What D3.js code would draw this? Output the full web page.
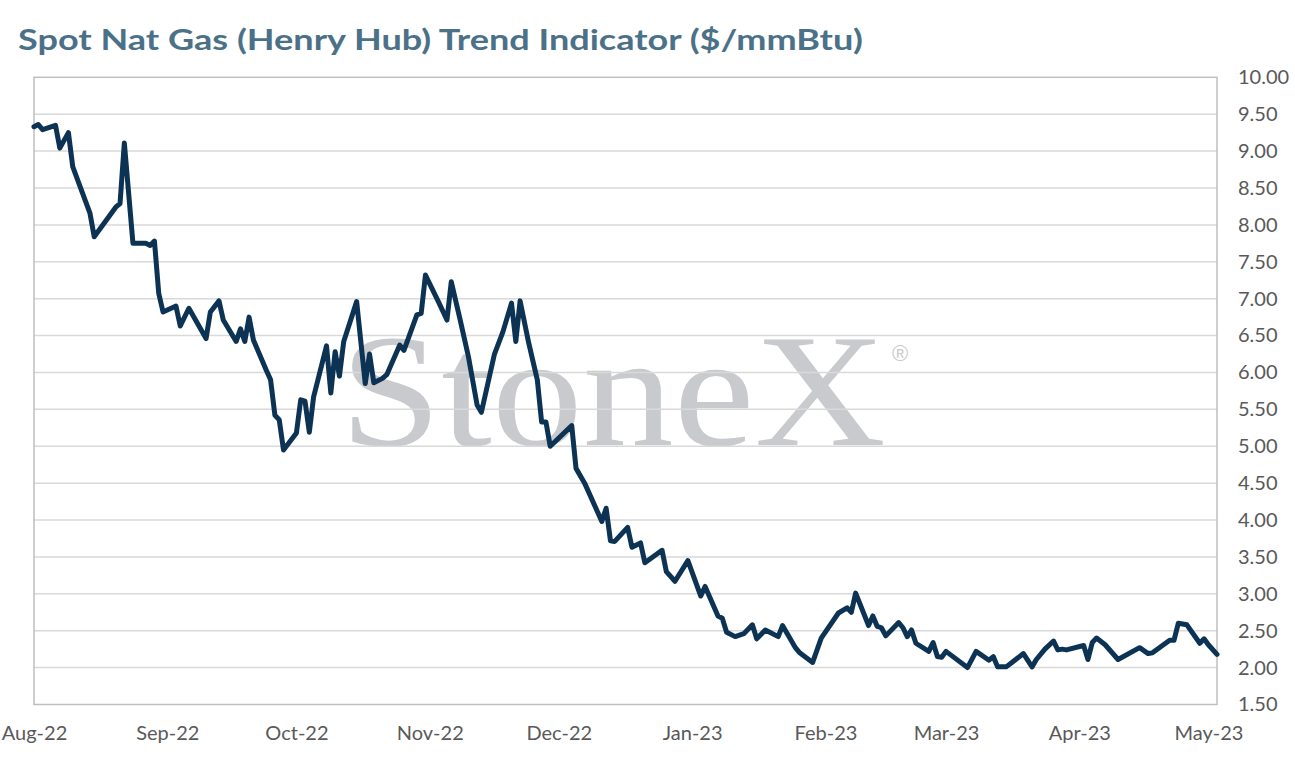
<!DOCTYPE html>
<html>
<head>
<meta charset="utf-8">
<script src="https://cdn.jsdelivr.net/npm/d3@7"></script>
<style>
  html, body { margin: 0; padding: 0; background: #ffffff; }
  svg { display: block; }
</style>
</head>
<body>
<svg id="chart" width="1295" height="766"></svg>
<script>
const titleText = "Spot Nat Gas (Henry Hub) Trend Indicator ($/mmBtu)";
const yTicks = [1.5, 2, 2.5, 3, 3.5, 4, 4.5, 5, 5.5, 6, 6.5, 7, 7.5, 8, 8.5, 9, 9.5, 10];
const xTickMonths = ["2022-08-01","2022-09-01","2022-10-01","2022-11-01","2022-12-01","2023-01-01","2023-02-01","2023-03-01","2023-04-01","2023-05-01"];
const xDomain = ["2022-08-01", "2023-05-03"];

const dates = [
"2022-08-01","2022-08-02","2022-08-03","2022-08-06","2022-08-07","2022-08-09","2022-08-10","2022-08-14","2022-08-15","2022-08-20",
"2022-08-21","2022-08-22","2022-08-24","2022-08-27","2022-08-28","2022-08-29","2022-08-30","2022-08-31","2022-09-03","2022-09-04",
"2022-09-06","2022-09-10","2022-09-11","2022-09-13","2022-09-14","2022-09-17","2022-09-18","2022-09-19","2022-09-20","2022-09-21",
"2022-09-24","2022-09-25","2022-09-26","2022-09-27","2022-09-28","2022-10-01","2022-10-02","2022-10-03","2022-10-04","2022-10-05",
"2022-10-08","2022-10-09","2022-10-10","2022-10-11","2022-10-12","2022-10-15","2022-10-17","2022-10-18","2022-10-19","2022-10-21",
"2022-10-22","2022-10-25","2022-10-26","2022-10-29","2022-10-30","2022-10-31","2022-11-03","2022-11-05","2022-11-06","2022-11-08",
"2022-11-10","2022-11-12","2022-11-13","2022-11-16","2022-11-18","2022-11-20","2022-11-21","2022-11-22","2022-11-24","2022-11-26",
"2022-11-27","2022-11-28","2022-11-29","2022-12-04","2022-12-05","2022-12-07","2022-12-11","2022-12-12","2022-12-13","2022-12-14",
"2022-12-17","2022-12-18","2022-12-20","2022-12-21","2022-12-25","2022-12-26","2022-12-28","2022-12-31","2023-01-03","2023-01-04",
"2023-01-07","2023-01-08","2023-01-09","2023-01-11","2023-01-13","2023-01-15","2023-01-16","2023-01-18","2023-01-21","2023-01-22",
"2023-01-25","2023-01-26","2023-01-29","2023-01-31","2023-02-04","2023-02-06","2023-02-07","2023-02-08","2023-02-11","2023-02-12",
"2023-02-13","2023-02-14","2023-02-15","2023-02-18","2023-02-19","2023-02-20","2023-02-21","2023-02-22","2023-02-25","2023-02-26",
"2023-02-27","2023-02-28","2023-03-01","2023-03-06","2023-03-08","2023-03-11","2023-03-12","2023-03-13","2023-03-15","2023-03-19",
"2023-03-21","2023-03-22","2023-03-24","2023-03-26","2023-03-27","2023-03-28","2023-03-29","2023-04-02","2023-04-03","2023-04-04",
"2023-04-05","2023-04-07","2023-04-10","2023-04-15","2023-04-17","2023-04-18","2023-04-22","2023-04-23","2023-04-24","2023-04-26",
"2023-04-29","2023-04-30","2023-05-01","2023-05-03"
];
const prices = [
9.33,9.36,9.29,9.35,9.04,9.25,8.79,8.16,7.84,8.24,
8.29,9.11,7.75,7.75,7.72,7.78,7.07,6.82,6.90,6.63,
6.87,6.46,6.82,6.97,6.71,6.42,6.59,6.42,6.75,6.44,
6.03,5.90,5.42,5.36,4.95,5.18,5.63,5.61,5.19,5.67,
6.36,5.72,6.28,5.95,6.42,6.96,5.85,6.25,5.86,5.92,
5.97,6.37,6.30,6.78,6.80,7.32,6.96,6.71,7.23,6.73,
6.21,5.56,5.46,6.24,6.55,6.94,6.42,6.97,6.40,5.90,
5.33,5.33,5.00,5.28,4.70,4.50,3.98,4.16,3.72,3.71,
3.90,3.63,3.69,3.42,3.59,3.30,3.17,3.45,2.97,3.10,
2.70,2.67,2.48,2.42,2.46,2.58,2.39,2.51,2.42,2.57,
2.27,2.20,2.07,2.40,2.74,2.81,2.75,3.01,2.57,2.70,
2.56,2.54,2.43,2.61,2.54,2.42,2.51,2.33,2.22,2.34,
2.15,2.14,2.22,2.00,2.22,2.10,2.15,2.01,2.01,2.19,
2.01,2.11,2.25,2.36,2.24,2.25,2.24,2.30,2.11,2.34,
2.40,2.31,2.11,2.27,2.19,2.20,2.37,2.37,2.60,2.58,
2.33,2.39,2.31,2.18
];

const parse = d3.timeParse("%Y-%m-%d");
const data = dates.map((d, i) => ({ date: parse(d), value: prices[i] }));

const svg = d3.select("#chart");
const L = 34, R = 1217, T = 77.3, B = 704.5;

const x = d3.scaleTime().domain(xDomain.map(parse)).range([L, R]);
const y = d3.scaleLinear().domain([1.5, 10]).range([B, T]);

// Title
svg.append("text")
  .attr("x", 18).attr("y", 50)
  .attr("font-family", "Lato, 'Open Sans', sans-serif")
  .attr("font-weight", 700)
  .attr("font-size", 29)
  .attr("fill", "#4b7189")
  .attr("textLength", 845)
  .attr("lengthAdjust", "spacingAndGlyphs")
  .text(titleText);

// Watermark
const wm = svg.append("g").attr("class", "watermark");
wm.append("text")
  .attr("x", 340).attr("y", 445)
  .attr("font-family", "'Liberation Serif', 'DejaVu Serif', serif")
  .attr("font-size", 162)
  .attr("fill", "#c9cacd")
  .attr("textLength", 546)
  .attr("lengthAdjust", "spacingAndGlyphs")
  .text("StoneX");
wm.append("text")
  .attr("x", 892).attr("y", 361)
  .attr("font-family", "'Liberation Sans', sans-serif")
  .attr("font-size", 22)
  .attr("fill", "#c9cacd")
  .text("\u00AE");

// Gridlines
svg.append("g")
  .selectAll("line")
  .data(yTicks.filter(v => v > 1.5 && v < 10))
  .join("line")
  .attr("x1", L).attr("x2", R)
  .attr("y1", d => y(d)).attr("y2", d => y(d))
  .attr("stroke", "#d9d9d9")
  .attr("stroke-width", 1.5);

// Frame
svg.append("rect")
  .attr("x", L).attr("y", T)
  .attr("width", R - L).attr("height", B - T)
  .attr("fill", "none")
  .attr("stroke", "#bfbfbf")
  .attr("stroke-width", 1.5);

// Y axis (right)
const yAxis = d3.axisRight(y)
  .tickValues(yTicks)
  .tickFormat(d3.format(".2f"))
  .tickSize(0)
  .tickPadding(21);
const yg = svg.append("g").attr("transform", `translate(${R},0)`).call(yAxis);
yg.select(".domain").remove();
yg.selectAll("text")
  .attr("font-family", "Lato, 'Open Sans', sans-serif")
  .attr("font-size", 20)
  .attr("fill", "#595959");

// X axis
const xAxis = d3.axisBottom(x)
  .tickValues(xTickMonths.map(parse))
  .tickFormat(d3.timeFormat("%b-%y"))
  .tickSize(0)
  .tickPadding(21);
const xg = svg.append("g").attr("transform", `translate(0,${B})`).call(xAxis);
xg.select(".domain").remove();
xg.selectAll("text")
  .attr("font-family", "Lato, 'Open Sans', sans-serif")
  .attr("font-size", 20)
  .attr("fill", "#595959");

// Line
const line = d3.line()
  .x(d => x(d.date))
  .y(d => y(d.value));
svg.append("path")
  .datum(data)
  .attr("d", line)
  .attr("fill", "none")
  .attr("stroke", "#0c3354")
  .attr("stroke-width", 5)
  .attr("stroke-linejoin", "round")
  .attr("stroke-linecap", "round");
</script>
</body>
</html>
